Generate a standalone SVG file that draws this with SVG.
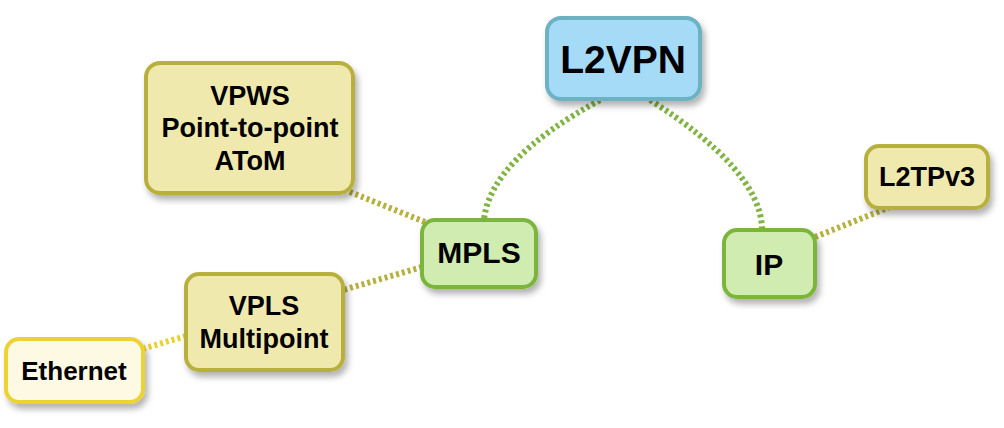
<svg xmlns="http://www.w3.org/2000/svg" width="1004" height="428" viewBox="0 0 1004 428">
<defs>
<filter id="sh" x="-20%" y="-20%" width="150%" height="160%">
<feDropShadow dx="3" dy="5" stdDeviation="3" flood-color="#000" flood-opacity="0.3"/>
</filter>
<style>
.t{font-family:"Liberation Sans",Arial,sans-serif;font-weight:bold;fill:#000;text-anchor:middle}
.blue{fill:#a6dbf8;stroke:#6cb2c2;stroke-width:4}
.green{fill:#d0ecb0;stroke:#7cb53a;stroke-width:4}
.olive{fill:#f0e9ad;stroke:#b8b03e;stroke-width:4}
.yel{fill:#fdf9e3;stroke:#ecd232;stroke-width:4}
.c{fill:none;stroke-width:6;stroke-dasharray:3 3}
.cg{stroke:#80b443}
.co{stroke:#b8b03e}
.cy{stroke:#e8d232}
</style>
</defs>
<g id="connectors">
<path class="c cg" d="M600,100 Q490,160 484,220"/>
<path class="c cg" d="M650,100 Q760,170 762,228"/>
<path class="c co" d="M425,222 L345,190"/>
<path class="c co" d="M422,267 L343,290"/>
<path class="c cy" d="M186,336 L142,349"/>
<path class="c co" d="M815,237 L890,207"/>
</g>
<g id="L2VPN">
<rect class="blue" x="547" y="18" width="153" height="81" rx="14" filter="url(#sh)"/>
<text class="t" x="623" y="73" font-size="39">L2VPN</text>
</g>
<g id="MPLS">
<rect class="green" x="422" y="220" width="114" height="67" rx="13" filter="url(#sh)"/>
<text class="t" x="479" y="263" font-size="30">MPLS</text>
</g>
<g id="IP">
<rect class="green" x="724" y="230" width="91" height="67" rx="13" filter="url(#sh)"/>
<text class="t" x="769" y="275" font-size="30">IP</text>
</g>
<g id="VPWS">
<rect class="olive" x="146" y="63" width="207" height="130" rx="14" filter="url(#sh)"/>
<text class="t" x="250" y="105" font-size="27">VPWS</text>
<text class="t" x="250" y="137" font-size="27">Point-to-point</text>
<text class="t" x="250" y="170" font-size="27">AToM</text>
</g>
<g id="VPLS">
<rect class="olive" x="186" y="274" width="157" height="96" rx="13" filter="url(#sh)"/>
<text class="t" x="264" y="315" font-size="27">VPLS</text>
<text class="t" x="264" y="348" font-size="27">Multipoint</text>
</g>
<g id="Ethernet">
<rect class="yel" x="6" y="339" width="137" height="63" rx="13" filter="url(#sh)"/>
<text class="t" x="74" y="380" font-size="26">Ethernet</text>
</g>
<g id="L2TPv3">
<rect class="olive" x="866" y="146" width="122" height="62" rx="13" filter="url(#sh)"/>
<text class="t" x="927" y="186" font-size="27">L2TPv3</text>
</g>
</svg>
